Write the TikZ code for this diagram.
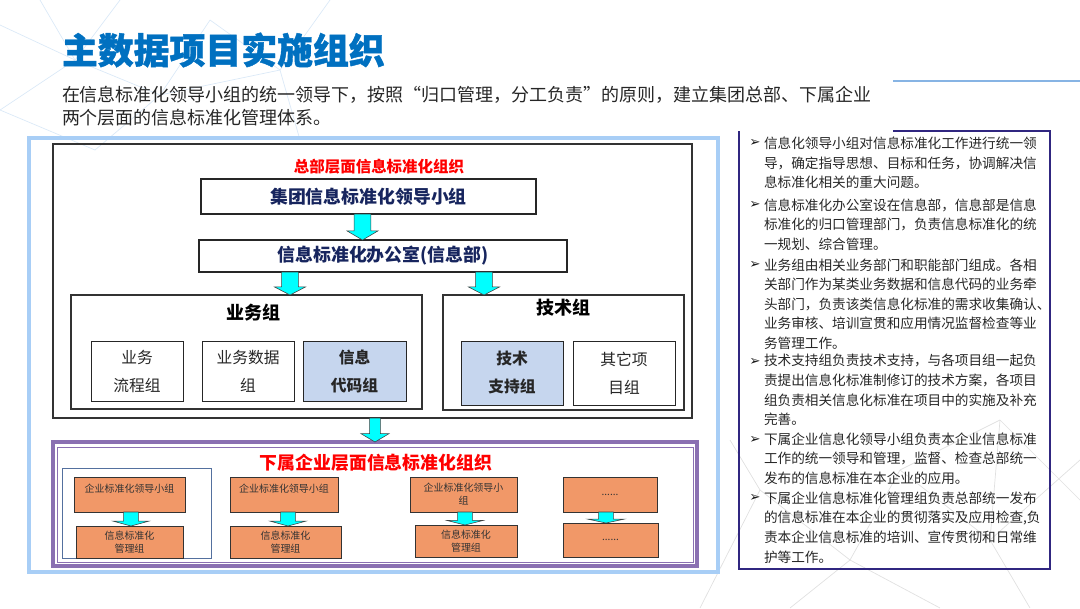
\documentclass[tikz,border=0pt]{standalone}
\usepackage{fontspec}
\setmainfont{Noto Sans CJK SC}
\newfontfamily\heavyfont{Noto Sans CJK SC}[BoldFeatures={FakeBold=1.2}]
\newfontfamily\symfont{DejaVu Sans}
\usepackage{xcolor}
\usetikzlibrary{calc, positioning}

\definecolor{titleblue}{RGB}{0,112,192}
\definecolor{navytext}{RGB}{23,37,94}
\definecolor{codeblue}{RGB}{198,214,238}
\definecolor{orgfill}{RGB}{241,152,104}
\definecolor{arrowcyan}{RGB}{0,255,255}
\definecolor{framepurple}{RGB}{138,112,178}
\definecolor{paneltxt}{RGB}{38,38,38}
\definecolor{panelnavy}{RGB}{48,38,128}
\definecolor{lightframe}{RGB}{168,206,246}
\definecolor{deco}{RGB}{135,180,228}
\definecolor{slate}{RGB}{84,112,158}

\newcommand{\fs}[2]{\fontsize{#1}{#2}\selectfont}
% block arrow: start, end, shaft half width, head half width
\newcommand{\blockarrow}[4]{%
  \draw[cyanblk] let \p1=(#1), \p2=(#2), \p3=($(#2)!0.35!(#1)$) in
    (\x1-#3,\y1) -- (\x1+#3,\y1) -- (\x1+#3,\y3) -- (\x1+#4,\y3) -- (\x1,\y2)
    -- (\x1-#4,\y3) -- (\x1-#3,\y3) -- cycle;}

\begin{document}
\begin{tikzpicture}[
    x=0.025cm, y=-0.025cm,
    every node/.style={inner sep=0pt, outer sep=0pt},
    sz/.style 2 args={minimum width=#1*0.025cm, minimum height=#2*0.025cm},
    hqframe/.style={draw=black!80, line width=0.8pt},
    leadbox/.style={draw=black!85, fill=white, line width=0.8pt, text=navytext, font=\fs{12.7}{15}\bfseries},
    grpbox/.style={draw=black!80, fill=white, line width=0.8pt},
    grplabel/.style={font=\fs{12.8}{15}\bfseries},
    unitbox/.style={draw=black!85, fill=white, line width=0.6pt, align=center, font=\fs{11.2}{19.9}, text=black!85},
    codebox/.style={unitbox, fill=codeblue, font=\fs{11.2}{19.9}\bfseries},
    redtitle/.style={text=red, font=\bfseries},
    orgbox/.style={draw=black!80, fill=orgfill, line width=0.6pt, align=center, font=\fs{7.1}{9.2}, text=black!80},
    cyanblk/.style={draw=black!75, fill=arrowcyan, line width=0.4pt},
    bullettext/.style={anchor=west, align=left, text=paneltxt, font=\fs{9.7}{13.9}},
    bulletmark/.style={font=\symfont\fs{9.5}{10}, text=black!90},
    decoline/.style={deco!30, line width=0.5pt}
]
\useasboundingbox (0,0) rectangle (1080,608);

% ==================== BACKGROUND ====================
\foreach \xa/\ya/\xb/\yb in {0/25/75/60, 75/60/120/0, 75/60/160/95, 160/95/210/20,
                   210/20/280/70, 280/70/330/0, 160/95/280/70, 0/110/75/60,
                   0/110/95/150, 95/150/160/95, 40/0/75/60, 280/70/300/140}
  \draw[decoline] (\xa,\ya) -- (\xb,\yb);
\foreach \xa/\ya/\xb/\yb in {700/608/760/490, 760/490/850/560, 850/560/900/470, 900/470/990/540,
                   990/540/1080/460, 850/560/940/608, 990/540/1030/608, 760/490/730/440,
                   900/470/1000/420, 1000/420/1080/500, 990/540/1000/420, 850/560/790/608}
  \draw[black!12, line width=0.5pt] (\xa,\ya) -- (\xb,\yb);

% ==================== HEADER ====================
\node[anchor=west, text=titleblue, font=\heavyfont\fs{25.5}{30}\bfseries] (title) at (62,50) {主数据项目实施组织};
\node[anchor=west, align=left, text=black!85, font=\fs{12.8}{16.4}] (intro) at (62,106.5)
  {在信息标准化领导小组的统一领导下，按照“归口管理，分工负责”的原则，建立集团总部、下属企业\\两个层面的信息标准化管理体系。};
\draw[deco, line width=1.6pt] (893,81) -- (1080,81);

% ==================== HQ LEVEL ====================
\draw[lightframe, line width=2.2pt] (29,138) rectangle (718,572);
\node[hqframe, sz={639}{274}] (hq) at (372.5,281) {};
\node[redtitle, font=\fs{11}{13}\bfseries] (hqtitle) at (379,167) {总部层面信息标准化组织};
\node[leadbox, sz={335}{35}] (lead) at (368.5,196.5) {集团信息标准化领导小组};
\node[leadbox, sz={368}{32}] (office) at (383,256) {信息标准化办公室(信息部)};

\node[grpbox, sz={351}{114}] (bizgrp) at (246.5,352) {};
\node[grplabel] (bizlabel) at (253,313) {业务组};
\node[grpbox, sz={241}{115}] (techgrp) at (563.5,352.5) {};
\node[grplabel] (techlabel) at (563,308) {技术组};

\node[unitbox, sz={92}{60}] (bizflow) at (137,371) {业务\\流程组};
\node[unitbox, sz={92}{60}] (bizdata) at (248,371) {业务数据\\组};
\node[codebox, sz={103}{60}] (infocode) at (354.5,371) {信息\\代码组};
\node[codebox, sz={102}{64}] (techsup) at (512,373) {技术\\支持组};
\node[unitbox, sz={102}{64}] (otherproj) at (624,373) {其它项\\目组};

\blockarrow{$(lead.south)+(-6,0)$}{office.north}{6pt}{11pt}
\blockarrow{$(office.south)+(-93,0)$}{bizgrp.north}{6pt}{11pt}
\blockarrow{$(office.south)+(101,0)$}{techgrp.north}{6pt}{11pt}

% ==================== SUBSIDIARY LEVEL ====================
\node[draw=framepurple, line width=2.2pt, fill=white, sz={644}{124}] (subgrp) at (375,504) {};
\draw[framepurple, line width=0.6pt] ($(subgrp.north west)+(4,5)$) rectangle ($(subgrp.south east)+(-4,-4)$);
\blockarrow{$(hq.south)+(2.5,0)$}{subgrp.north}{3.8pt}{10pt}
\node[redtitle, font=\fs{12.7}{15}\bfseries] (subtitle) at (376,463) {下属企业层面信息标准化组织};
\node[draw=slate, line width=0.6pt, sz={149}{90}] (firmframe) at (136.5,513) {};

\node[orgbox, sz={111}{35}] (firm1lead) at (129.5,494.5) {企业标准化领导小组\\\mbox{}};
\node[orgbox, sz={107}{32}] (firm1mgr) at (129.5,542) {信息标准化\\管理组};
\node[orgbox, sz={108}{35}] (firm2lead) at (284,494.5) {企业标准化领导小组\\\mbox{}};
\node[orgbox, sz={111}{32}] (firm2mgr) at (285.5,542) {信息标准化\\管理组};
\node[orgbox, sz={107}{35}] (firm3lead) at (463.5,494.5) {企业标准化领导小\\组};
\node[orgbox, sz={102}{32}] (firm3mgr) at (466,541) {信息标准化\\管理组};
\node[orgbox, sz={94}{35}] (firm4lead) at (610,494.5) {......};
\node[orgbox, sz={95}{34}] (firm4mgr) at (610.5,540) {......};

\foreach \i/\dx in {1/1.5, 2/4, 3/1.5, 4/-4}
  \blockarrow{$(firm\i lead.south)+(\dx,0)$}{firm\i mgr.north}{5.3pt}{12.8pt};

% ==================== NOTES PANEL ====================
\draw[panelnavy, line width=1pt] (893,131) -- (1050,131) -- (1050,569) -- (739,569) -- (739,131);
\foreach \y [count=\i] in {143,205,265,362,440,498}
  \node[bulletmark] (mark\i) at (755,\y) {➢};
\node[bullettext] (note1) at (764,163) {信息化领导小组对信息标准化工作进行统一领\\导，确定指导思想、目标和任务，协调解决信\\息标准化相关的重大问题。};
\node[bullettext] (note2) at (764,224.5) {信息标准化办公室设在信息部，信息部是信息\\标准化的归口管理部门，负责信息标准化的统\\一规划、综合管理。};
\node[bullettext] (note3) at (764,304) {业务组由相关业务部门和职能部门组成。各相\\关部门作为某类业务数据和信息代码的业务牵\\头部门，负责该类信息化标准的需求收集确认、\\业务审核、培训宣贯和应用情况监督检查等业\\务管理工作。};
\node[bullettext] (note4) at (764,390) {技术支持组负责技术支持，与各项目组一起负\\责提出信息化标准制修订的技术方案，各项目\\组负责相关信息化标准在项目中的实施及补充\\完善。};
\node[bullettext] (note5) at (764,458.5) {下属企业信息化领导小组负责本企业信息标准\\工作的统一领导和管理，监督、检查总部统一\\发布的信息标准在本企业的应用。};
\node[bullettext] (note6) at (764,527.5) {下属企业信息标准化管理组负责总部统一发布\\的信息标准在本企业的贯彻落实及应用检查,负\\责本企业信息标准的培训、宣传贯彻和日常维\\护等工作。};

\end{tikzpicture}
\end{document}
